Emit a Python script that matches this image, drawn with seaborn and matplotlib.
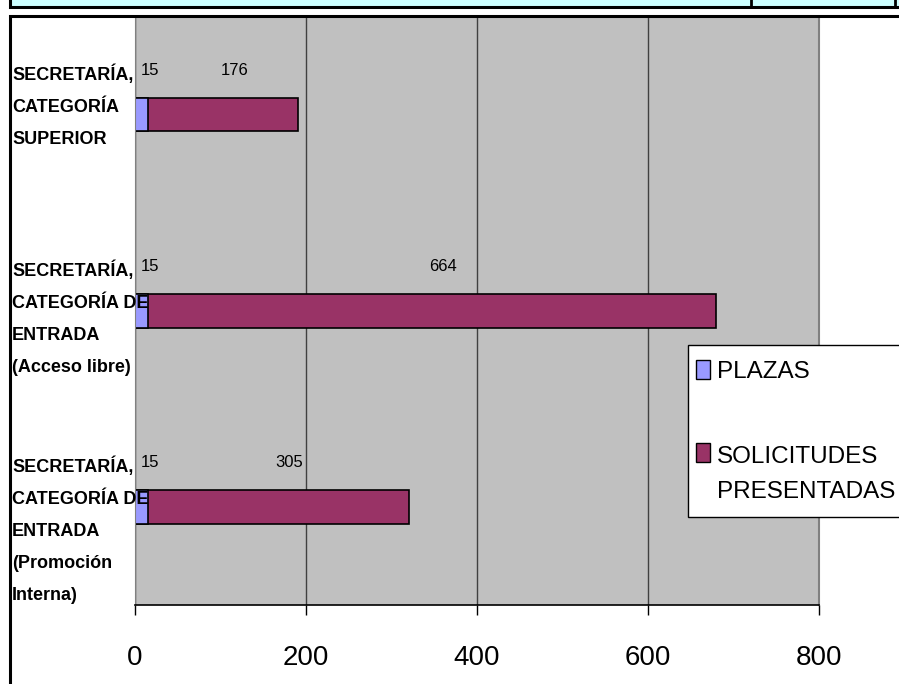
import numpy as np
import pandas as pd
import matplotlib
matplotlib.use("Agg")
import matplotlib.pyplot as plt
import matplotlib.transforms as mtrans
from matplotlib.patches import Rectangle
from matplotlib.lines import Line2D
from matplotlib.legend_handler import HandlerPatch
import seaborn as sns

# datos del gráfico
categorias = ["SECRETARÍA,\nCATEGORÍA\nSUPERIOR",
              "SECRETARÍA,\nCATEGORÍA DE\nENTRADA\n(Acceso libre)",
              "SECRETARÍA,\nCATEGORÍA DE\nENTRADA\n(Promoción\nInterna)"]
plazas = [15, 15, 15]
solicitudes = [176, 664, 305]
series = ["PLAZAS", "SOLICITUDES\nPRESENTADAS"]
xticks = [0, 200, 400, 600, 800]

C_PLAZAS = '#9999FF'
C_SOLIC = '#993366'

plt.rcParams['font.family'] = ['Liberation Sans', 'DejaVu Sans']

df = pd.DataFrame({'cat': categorias, 'plazas': plazas, 'solicitudes': solicitudes})
df['total'] = df['plazas'] + df['solicitudes']

W, H = 899, 684
fig = plt.figure(figsize=(W / 100, H / 100), dpi=100)
fig.patch.set_facecolor('white')

# franja superior (celda de hoja de cálculo)
fig.add_artist(Rectangle((9.5 / W, 1 - 6.5 / H), 1.2, 0.1, transform=fig.transFigure,
                         facecolor='#CCFFFF', edgecolor='black', lw=2.2))
for xp in [751, 895]:
    fig.add_artist(Line2D([xp / W, xp / W], [1 - 6.5 / H, 1], transform=fig.transFigure,
                          color='black', lw=2))
# marco del gráfico
fig.add_artist(Rectangle((10 / W, -0.2), 1.2, 1.2 - 15.8 / H, transform=fig.transFigure,
                         fill=False, edgecolor='black', lw=2.2))

ax = fig.add_axes([135 / W, 1 - 605 / H, (819 - 135) / W, (605 - 16.8) / H])
ax.set_facecolor('#C0C0C0')

sns.barplot(data=df, x='total', y='cat', orient='h', color=C_SOLIC, saturation=1,
            width=0.17, edgecolor='black', linewidth=1.2, ax=ax)
sns.barplot(data=df, x='plazas', y='cat', orient='h', color=C_PLAZAS, saturation=1,
            width=0.17, edgecolor='black', linewidth=1.2, ax=ax)

ax.set_xlim(0, 800)
ax.set_ylim(2.5, -0.5)
ax.set_xticks(xticks)
ax.set_xticklabels([str(t) for t in xticks])
ax.set_yticks([])
ax.set_xlabel('')
ax.set_ylabel('')
ax.set_axisbelow(True)
ax.xaxis.grid(True, color='#404040', lw=1)
ax.tick_params(axis='x', direction='out', length=7, width=1, color='black',
               labelsize=20, pad=22)
ax.spines['top'].set_visible(False)
ax.spines['left'].set_color('#808080')
ax.spines['right'].set_color('#808080')
ax.spines['right'].set_linewidth(1.5)
ax.spines['bottom'].set_color('black')
ax.spines['bottom'].set_linewidth(1.2)

# etiquetas de valores
for i, (p, s) in enumerate(zip(plazas, solicitudes)):
    ax.annotate(str(p), xy=(p / 2, i), xytext=(6, 32), textcoords='offset points',
                ha='center', va='center', fontsize=12)
    ax.annotate(str(s), xy=(p + s / 2, i), xytext=(8, 32), textcoords='offset points',
                ha='center', va='center', fontsize=12)

# etiquetas de categorías, una línea cada vez
trans = mtrans.blended_transform_factory(fig.transFigure, ax.transData)
for i, c in enumerate(categorias):
    for k, linea in enumerate(c.split('\n')):
        fig.text(12 / W, i - 0.179 + k * 0.163, linea, transform=trans, ha='left',
                 va='baseline', fontsize=13, fontweight='bold')


def patch_arriba(legend, orig_handle, xdescent, ydescent, width, height, fontsize):
    # el marcador se alinea con la primera línea de la etiqueta
    n = len(orig_handle.get_label().split('\n'))
    dy = (n - 1) * 0.9 * fontsize
    return Rectangle((-xdescent - 5, -ydescent + dy), width, height)


handles = [Rectangle((0, 0), 1, 1, facecolor=C_PLAZAS, edgecolor='black', lw=1, label=series[0]),
           Rectangle((0, 0), 1, 1, facecolor=C_SOLIC, edgecolor='black', lw=1, label=series[1])]
leg = fig.legend(handles, series, loc='upper left', bbox_to_anchor=(688 / W, 1 - 345 / H),
                 fontsize=17.5, frameon=True, fancybox=False, framealpha=1, edgecolor='black',
                 borderpad=0.6, handlelength=0.6, handleheight=0.85, handletextpad=0.0,
                 labelspacing=2.6, borderaxespad=0,
                 handler_map={Rectangle: HandlerPatch(patch_func=patch_arriba)})
leg.get_frame().set_linewidth(1)
for t in leg.get_texts():
    t.set_linespacing(1.75)

fig.savefig('out.png', dpi=100)
